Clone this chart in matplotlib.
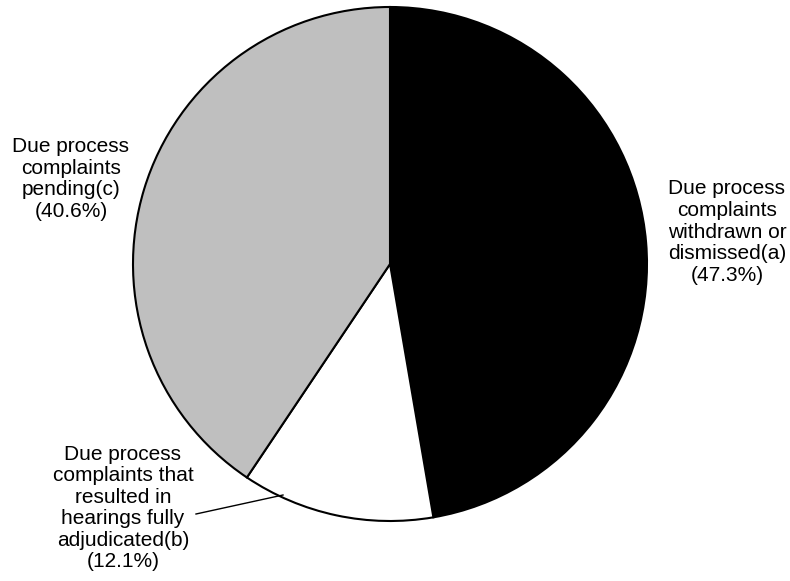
import matplotlib.pyplot as plt

plt.rcParams['font.family'] = ['Liberation Sans', 'DejaVu Sans']

labels = ["Due process\ncomplaints\nwithdrawn or\ndismissed(a)\n(47.3%)",
          "Due process\ncomplaints that\nresulted in\nhearings fully\nadjudicated(b)\n(12.1%)",
          "Due process\ncomplaints\npending(c)\n(40.6%)"]
shares = [47.3, 12.1, 40.6]
colors = ["#000000", "#ffffff", "#bfbfbf"]

W, H = 790, 581
fig = plt.figure(figsize=(W / 100, H / 100), dpi=100)
ax = fig.add_axes([0, 0, 1, 1])
ax.set_xlim(0, W)
ax.set_ylim(0, H)
ax.set_aspect('equal')
ax.axis('off')

ax.pie(shares, colors=colors, startangle=90, counterclock=False,
       center=(390, H - 264), radius=257,
       wedgeprops=dict(edgecolor='black', linewidth=1.5))
ax.set_xlim(0, W)
ax.set_ylim(0, H)

# label positions in pixels from top-left
pos = [(727, 232), (123, 508), (71, 179)]
for lab, (x, y) in zip(labels, pos):
    ax.text(x, H - y, lab, ha='center', va='center', multialignment='center',
            fontsize=15, linespacing=1.17)

# leader line for small slice
ax.plot([196, 283], [H - 514, H - 495], color='black', lw=1)

fig.savefig('out.png', dpi=100)
